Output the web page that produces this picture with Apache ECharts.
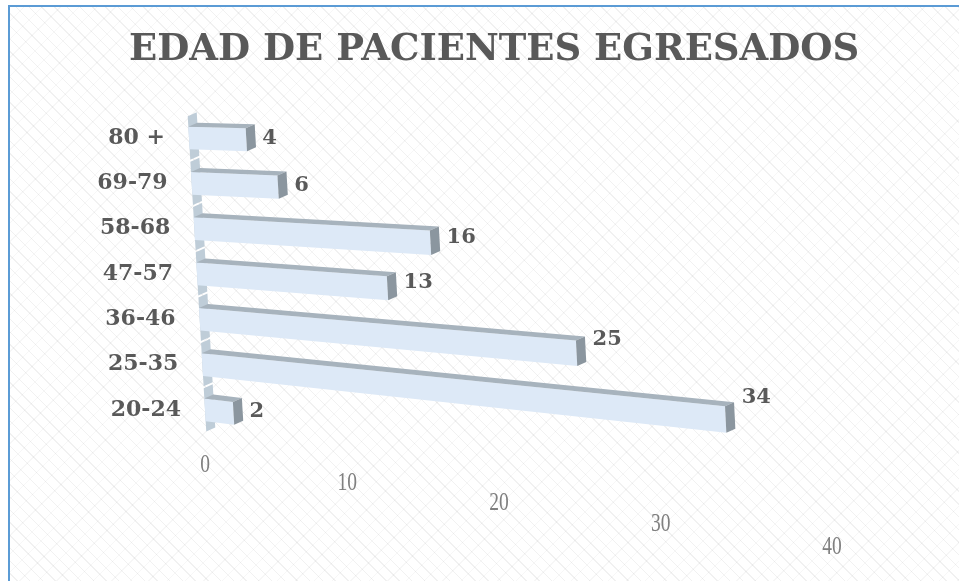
<!DOCTYPE html>
<html>
<head>
<meta charset="utf-8">
<title>Edad de pacientes egresados</title>
<script src="https://cdn.jsdelivr.net/npm/echarts@6/dist/echarts.min.js"></script>
<style>
	html, body { margin: 0; padding: 0; background: #fff; }
	#frame {
		position: absolute; left: 8px; top: 5px; width: 1000px; height: 1000px;
		border-top: 2px solid #5b9bd5; border-left: 2px solid #5b9bd5;
		background-color: #fff;
		background-image:
			repeating-linear-gradient(45deg, rgba(0,0,0,0.055) 0 1px, transparent 1px 9px),
			repeating-linear-gradient(-45deg, rgba(0,0,0,0.03) 0 1px, transparent 1px 13px);
	}
	#chart { position: absolute; left: 0; top: 0; width: 959px; height: 581px; }
</style>
</head>
<body>
<div id="frame"></div>
<div id="chart"></div>
<script>
	// datos (de abajo hacia arriba, como los pinta el eje de categorias)
	const categories = ['20-24', '25-35', '36-46', '47-57', '58-68', '69-79', '80 +']
	const pacientes = [2, 34, 25, 13, 16, 6, 4]
	const ticks = [0, 10, 20, 30, 40]

	// efecto 3D / perspectiva (imitacion del grafico de Excel)
	const WALL_SHIFT = 16      // la pared se inclina hacia la derecha al bajar
	const SLOPE0 = 0.03        // caida de las barras arriba
	const SLOPE1 = 0.09        // caida extra abajo
	const BAR_QUAD = 0.000174  // perspectiva a lo largo del eje de valores
	const DEPTH = [9, -4]      // profundidad de las barras
	const TICK_DROP = 55
	const TICK_LIN = 0.9655
	const TICK_QUAD = 0.000243
	const TICK_SLOPE = 0.131

	const TXT = '#595959'

	function makeGeo(api) {
		const top = api.coord([0, categories.length - 1])
		const bot = api.coord([0, 0])
		return { x0: top[0], yTop: top[1], span: bot[1] - top[1] }
	}

	function warp(geo, x, y, lin, quad, slope) {
		const t = (y - geo.yTop) / geo.span
		const dx = x - geo.x0
		const d = lin * dx + quad * dx * dx
		const k = slope != null ? slope : SLOPE0 + SLOPE1 * t
		return [geo.x0 + WALL_SHIFT * t + d, y + k * d]
	}

	const back = p => [p[0] + DEPTH[0], p[1] + DEPTH[1]]

	function renderBar(params, api) {
		const geo = makeGeo(api)
		const v = api.value(0)
		const i = api.value(1)
		const c = api.coord([0, i])
		const e = api.coord([v, i])
		const band = api.size([0, 1])[1]
		const h = band * 0.25
		const yc = c[1]
		const W = (x, y) => warp(geo, x, y, 1, BAR_QUAD)

		const ftl = W(c[0], yc - h), ftr = W(e[0], yc - h)
		const fbr = W(e[0], yc + h), fbl = W(c[0], yc + h)
		const wt = W(c[0], yc - band / 2 + 1), wb = W(c[0], yc + band / 2 - 1)
		const end = W(e[0], yc)
		const base = W(c[0], yc)

		return {
			type: 'group',
			children: [
				{ type: 'polygon', shape: { points: [wt, wb, back(wb), back(wt)] },
					style: { fill: '#bfcdd8' } },
				{ type: 'polygon', shape: { points: [ftl, ftr, fbr, fbl] },
					style: { fill: '#dde9f7' } },
				{ type: 'polygon', shape: { points: [ftl, ftr, back(ftr), back(ftl)] },
					style: { fill: '#a7b3bd' } },
				{ type: 'polygon', shape: { points: [ftr, fbr, back(fbr), back(ftr)] },
					style: { fill: '#8b969f' } },
				{ type: 'text', x: end[0] + DEPTH[0] + 7, y: yc + 0.6 * (end[1] - yc),
					style: { text: String(v), fill: TXT, font: 'bold 21px "DejaVu Serif"',
						align: 'left', verticalAlign: 'middle' } },
				{ type: 'text', x: base[0] - 24, y: yc,
					style: { text: categories[i], fill: TXT, font: 'bold 22px "DejaVu Serif"',
						align: 'right', verticalAlign: 'middle' } }
			]
		}
	}

	function renderTick(params, api) {
		const geo = makeGeo(api)
		const v = api.value(0)
		const p = api.coord([v, 0])
		const q = warp(geo, p[0], p[1] + TICK_DROP, TICK_LIN, TICK_QUAD, TICK_SLOPE)
		return {
			type: 'text', x: q[0] - 3, y: q[1], scaleX: 0.75,
			style: { text: String(v), fill: '#7f7f7f', font: '26px "Liberation Serif"',
				align: 'center', verticalAlign: 'middle' }
		}
	}

	const chart = echarts.init(document.getElementById('chart'))
	chart.setOption({
		animation: false,
		backgroundColor: 'transparent',
		title: {
			text: 'EDAD DE PACIENTES EGRESADOS',
			left: 124,
			top: 27,
			textStyle: { color: TXT, fontFamily: 'DejaVu Serif', fontWeight: 'bold', fontSize: 37 }
		},
		grid: {
			left: 189,
			top: 115.3,
			width: 568,
			height: 317.3,
			outerBoundsMode: 'none'
		},
		xAxis: { type: 'value', min: 0, max: 40, interval: 10, show: false },
		yAxis: { type: 'category', data: categories, show: false },
		series: [{
			type: 'custom',
			name: 'Pacientes',
			clip: false,
			renderItem: renderBar,
			encode: { x: 0, y: 1 },
			data: pacientes.map((v, i) => [v, i])
		}, {
			type: 'custom',
			name: 'ticks',
			clip: false,
			silent: true,
			renderItem: renderTick,
			encode: { x: 0, y: 1 },
			data: ticks.map(t => [t, 0])
		}]
	})
</script>
</body>
</html>
